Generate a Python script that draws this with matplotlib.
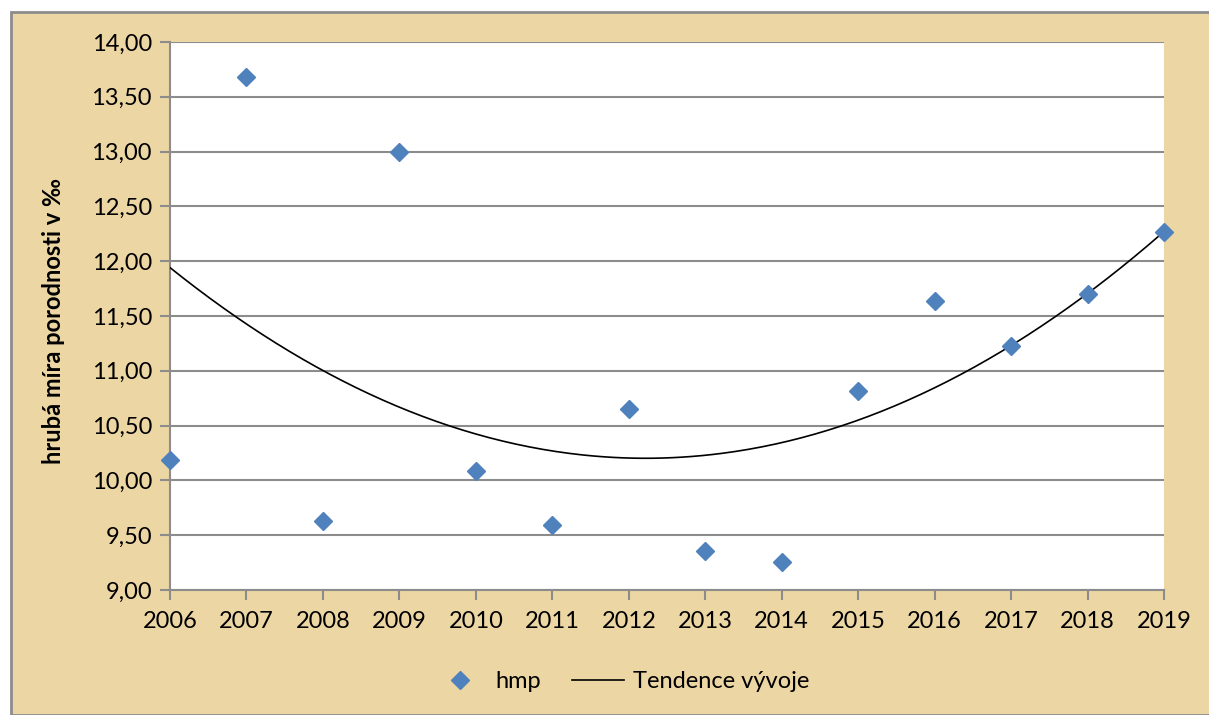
import numpy as np
import matplotlib.pyplot as plt
from matplotlib.patches import Rectangle

# hruba mira porodnosti (promile) po letech
years = [2006, 2007, 2008, 2009, 2010, 2011, 2012, 2013, 2014, 2015, 2016, 2017, 2018, 2019]
hmp = [10.19, 13.68, 9.63, 13.00, 10.09, 9.59, 10.65, 9.36, 9.26, 10.82, 11.64, 11.23, 11.70, 12.27]
y_ticks = [9.0, 9.5, 10.0, 10.5, 11.0, 11.5, 12.0, 12.5, 13.0, 13.5, 14.0]

plt.rcParams['font.family'] = ['Lato', 'DejaVu Sans']

W, H = 1209, 715
fig = plt.figure(figsize=(W / 100, H / 100), dpi=100, facecolor='white')

# papyrus-coloured chart area with grey frame
bg = Rectangle((11 / W, 0), 1 - 11 / W + 0.01, 1 - 12 / H, transform=fig.transFigure,
               facecolor='#ecd6a4', edgecolor='#8c8c8c', linewidth=2, zorder=-10)
fig.patches.append(bg)

ax = fig.add_axes([170 / W, 125 / H, 994 / W, 548 / H])
ax.set_facecolor('white')

x = np.array(years, dtype=float)
y = np.array(hmp)
coef = np.polyfit(x - 2006, y, 2)
xs = np.linspace(2006, 2019, 300)
ax.plot(xs, np.polyval(coef, xs - 2006), color='black', linewidth=1.2, label='Tendence vývoje', zorder=3)
ax.plot(years, hmp, linestyle='none', marker='D', markersize=9.5, color='#4f81bd',
        label='hmp', zorder=4, clip_on=False)

ax.set_xlim(2006, 2019)
ax.set_ylim(9, 14)
ax.set_xticks(years)
ax.set_yticks(y_ticks)
ax.set_yticklabels([f'{v:.2f}'.replace('.', ',') for v in y_ticks])
ax.yaxis.grid(True, color='#8c8c8c', linewidth=1.5)
ax.set_axisbelow(True)
for s in ['top', 'right']:
    ax.spines[s].set_visible(False)
for s in ['left', 'bottom']:
    ax.spines[s].set_color('#8c8c8c')
    ax.spines[s].set_linewidth(1.5)
ax.tick_params(axis='both', colors='#8c8c8c', width=1.5, length=7, labelsize=17,
               labelcolor='black')
ax.tick_params(axis='x', pad=8)
ax.tick_params(axis='y', pad=6)

ax.set_ylabel('hrubá míra porodnosti v ‰', fontsize=17, fontweight='bold')
ax.yaxis.set_label_coords(-0.106, 0.49)

handles, labels = ax.get_legend_handles_labels()
fig.legend(handles[::-1], labels[::-1], loc='center', bbox_to_anchor=(622 / W, 33 / H),
           ncol=2, frameon=False, fontsize=17, handlelength=2.2, columnspacing=1.3,
           handletextpad=0.4)

fig.savefig('out.png', dpi=100, facecolor=fig.get_facecolor())
